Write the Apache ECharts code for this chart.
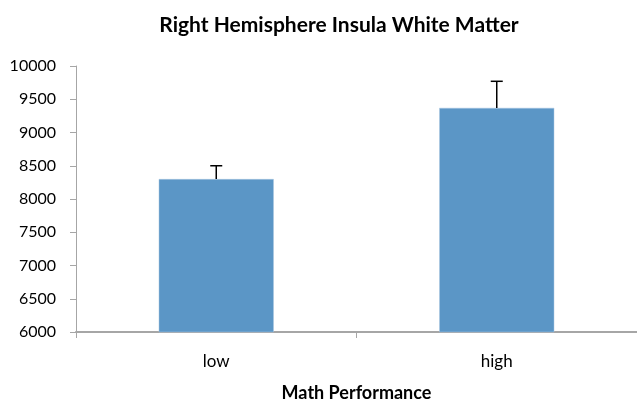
<!DOCTYPE html>
<html>
<head>
<meta charset="utf-8">
<script src="https://cdn.jsdelivr.net/npm/echarts@6/dist/echarts.min.js"></script>
<style>
  html, body { margin: 0; padding: 0; background: #fff; }
  #chart { width: 637px; height: 400px; }
</style>
</head>
<body>
<div id="chart"></div>
<script>
const categories = ['low', 'high'];
const means = [8300, 9370];
const errUp = [200, 400];

const font = 'Lato, "Open Sans", sans-serif';

document.addEventListener("DOMContentLoaded", () => {
  const chart = echarts.init(document.querySelector("#chart"));
  chart.setOption({
    animation: false,
    title: {
      text: 'Right Hemisphere Insula White Matter',
      left: 334,
      textAlign: 'center',
      top: 10,
      textStyle: { fontFamily: font, fontSize: 21, fontWeight: 'bold', color: '#000' }
    },
    grid: { left: 76, right: 0, top: 66, bottom: 68, outerBoundsMode: 'none', containLabel: false },
    xAxis: {
      type: 'category',
      data: categories,
      name: 'Math Performance',
      nameLocation: 'middle',
      nameGap: 52,
      nameTextStyle: { fontFamily: font, fontSize: 18, fontWeight: 'bold', color: '#000' },
      axisLine: { lineStyle: { color: '#a6a6a6', width: 2 } },
      axisTick: { show: true, length: 6, lineStyle: { color: '#a6a6a6' } },
      axisLabel: { fontFamily: font, fontSize: 17, color: '#000', margin: 21 }
    },
    yAxis: {
      type: 'value',
      min: 6000,
      max: 10000,
      interval: 500,
      splitLine: { show: false },
      axisLine: { show: true, lineStyle: { color: '#a6a6a6', width: 1 } },
      axisTick: { show: true, length: 6, lineStyle: { color: '#a6a6a6' } },
      axisLabel: { fontFamily: font, fontSize: 16, color: '#000', margin: 20, formatter: v => String(v) }
    },
    series: [
      {
        type: 'bar',
        data: means,
        barWidth: '41%',
        itemStyle: { color: '#5b96c6', borderColor: '#a9c6e0', borderWidth: 0.5 }
      },
      {
        type: 'custom',
        data: means.map((m, i) => [i, m, m + errUp[i]]),
        renderItem: (params, api) => {
          const base = api.coord([api.value(0), api.value(1)]);
          const top = api.coord([api.value(0), api.value(2)]);
          const half = 6;
          return {
            type: 'group',
            children: [
              { type: 'line', shape: { x1: base[0], y1: base[1], x2: top[0], y2: top[1] },
                style: { stroke: '#000', lineWidth: 1.5 } },
              { type: 'line', shape: { x1: top[0] - half, y1: top[1], x2: top[0] + half, y2: top[1] },
                style: { stroke: '#000', lineWidth: 1.5 } }
            ]
          };
        },
        z: 10
      }
    ]
  });
});
</script>
</body>
</html>
